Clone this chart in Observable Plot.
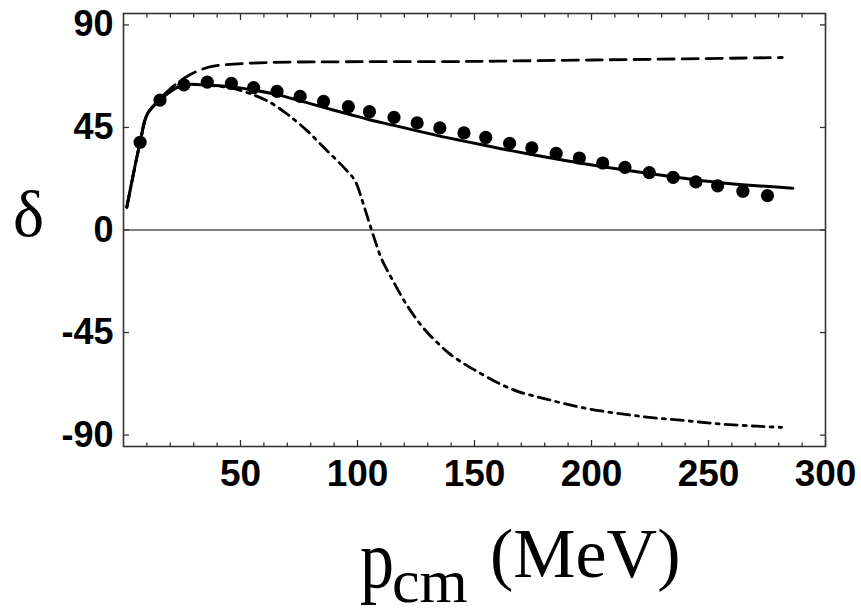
<!DOCTYPE html>
<html>
<head>
<meta charset="utf-8">
<script src="https://cdn.jsdelivr.net/npm/d3@7"></script>
<script src="https://cdn.jsdelivr.net/npm/@observablehq/plot@0.6"></script>
<style>
  body { margin: 0; background: #fff; }
  #chart { width: 861px; height: 616px; }
</style>
</head>
<body>
<div id="chart"></div>
<script>
// ---- data ----
const dotP     = [7.1, 15.6, 25.8, 35.8, 46.1, 55.6, 65.6, 75.5, 85.5, 96.1, 105.1, 115.6, 125.5, 135.2, 145.5, 154.8, 165.0, 174.5, 184.9, 194.8, 204.8, 214.3, 224.7, 234.9, 244.6, 253.9, 264.7, 275.2];
const dotDelta = [38.5, 57.0, 63.7, 64.9, 64.3, 62.5, 60.8, 58.6, 56.4, 54.1, 51.9, 49.4, 47.0, 44.8, 42.6, 40.6, 38.0, 36.0, 33.6, 31.6, 29.4, 27.5, 25.2, 23.1, 21.1, 19.4, 17.0, 15.1];

const solidP     = [1.4, 7.1, 10.2, 15.6, 21.6, 25.8, 35.8, 46.1, 55.6, 65.6, 75.5, 85.5, 96.1, 105.1, 115.6, 125.5, 135.2, 145.5, 160.8, 175, 196.2, 224.7, 253.1, 286];
const solidDelta = [10, 38.5, 50.9, 57, 61.8, 63.7, 63.6, 62.8, 61.4, 59.4, 56.7, 53.8, 50.9, 48.4, 45.9, 43.5, 41.2, 39.0, 35.8, 33.0, 29.2, 24.8, 21.0, 18.3];

const dashedP     = [1.4, 7.1, 10.2, 15.6, 20, 25.8, 30, 35.8, 41, 47.1, 61.4, 89.7, 139.5, 160.8, 200, 240, 281.5];
const dashedDelta = [10, 38.5, 50.9, 57.5, 62, 66.5, 69, 71.3, 72.3, 72.8, 73.5, 73.8, 73.9, 74.1, 74.6, 75.1, 75.7];

const dashDotP     = [1.4, 7.1, 10.2, 15.6, 21.6, 25.8, 35.8, 46.1, 51.4, 61.4, 69.9, 78.4, 87, 95.4, 99, 102, 104, 106, 108, 110, 112.5, 115, 118, 121, 124, 127.5, 131, 135, 139, 144, 150.7, 159.7, 168.7, 180.7, 195.7, 210.7, 225.7, 240.7, 255.7, 270.7, 281.2];
const dashDotDelta = [10, 38.5, 50.9, 57, 61.8, 63.7, 63.5, 62.3, 60.8, 56.7, 50.9, 43.6, 34.8, 26.1, 21.5, 13, 6.5, 0, -6.2, -12, -17.3, -22, -27.6, -32.8, -37.4, -42.2, -46.3, -50.3, -54, -57.7, -61.8, -66.9, -70.9, -74.2, -77.9, -80.4, -82.3, -83.7, -85.2, -86.1, -86.6];

const xTickLabels = [50, 100, 150, 200, 250, 300];
const xMinorTicks = [10, 20, 30, 40, 60, 70, 80, 90, 110, 120, 130, 140, 160, 170, 180, 190, 210, 220, 230, 240, 260, 270, 280, 290];
const yTickLabels = [-90, -45, 0, 45, 90];

// ---- tables built from arrays ----
const dots    = dotP.map((p, i) => ({p, d: dotDelta[i]}));
const solid   = solidP.map((p, i) => ({p, d: solidDelta[i]}));
const dashed  = dashedP.map((p, i) => ({p, d: dashedDelta[i]}));
const dashDot = dashDotP.map((p, i) => ({p, d: dashDotDelta[i]}));

const sans = "'Liberation Sans', Arial, Helvetica, sans-serif";
const serif = "'Liberation Serif', 'Times New Roman', Times, serif";
const frameColor = "#333";

const plot = Plot.plot({
  width: 861,
  height: 616,
  marginLeft: 123,
  marginRight: 36,
  marginTop: 13,
  marginBottom: 170,
  style: {fontFamily: sans, background: "white", color: "black"},
  x: {domain: [0, 300]},
  y: {domain: [-95, 95]},
  marks: [
    Plot.ruleY([0], {stroke: "black", strokeWidth: 1.2}),
    Plot.line(dashed,  {x: "p", y: "d", stroke: "black", strokeWidth: 2.8, strokeDasharray: "16,8", curve: "catmull-rom"}),
    Plot.line(dashDot, {x: "p", y: "d", stroke: "black", strokeWidth: 2.8, strokeDasharray: "12,6,3,6", curve: "catmull-rom"}),
    Plot.line(solid,   {x: "p", y: "d", stroke: "black", strokeWidth: 3, curve: "catmull-rom"}),
    Plot.dot(dots, {x: "p", y: "d", r: 6.6, fill: "black", stroke: "none"}),
    Plot.frame({stroke: frameColor, strokeWidth: 1.6}),
    // tick labels
    Plot.axisX({anchor: "bottom", ticks: xTickLabels, tickSize: 0, tickPadding: 13, fontSize: 37, fontWeight: "bold", tickFormat: d => String(d), label: null}),
    Plot.axisY({anchor: "left", ticks: yTickLabels, tickSize: 0, tickPadding: 10, fontSize: 36, fontWeight: "bold", tickFormat: d => String(d), label: null}),
    // inward ticks
    Plot.axisX({anchor: "bottom", ticks: xTickLabels, tickSize: -6, fill: "none", stroke: frameColor, strokeWidth: 1.3, label: null}),
    Plot.axisX({anchor: "bottom", ticks: xMinorTicks, tickSize: -3.5, fill: "none", stroke: frameColor, strokeWidth: 1.3, label: null}),
    Plot.axisX({anchor: "top", ticks: xTickLabels, tickSize: -6, fill: "none", stroke: frameColor, strokeWidth: 1.3, label: null}),
    Plot.axisX({anchor: "top", ticks: xMinorTicks, tickSize: -3.5, fill: "none", stroke: frameColor, strokeWidth: 1.3, label: null}),
    Plot.axisY({anchor: "left", ticks: yTickLabels, tickSize: -6, fill: "none", stroke: frameColor, strokeWidth: 1.3, label: null}),
    Plot.axisY({anchor: "right", ticks: yTickLabels, tickSize: -6, fill: "none", stroke: frameColor, strokeWidth: 1.3, label: null})
  ]
});

document.getElementById("chart").appendChild(plot);

// axis titles as real text
const s = d3.select(plot);
s.append("text")
  .attr("x", 13).attr("y", 236)
  .attr("text-anchor", "start")
  .attr("font-family", serif).attr("font-size", 66).attr("fill", "black")
  .text("δ");

const lab = s.append("g").attr("font-family", serif).attr("fill", "black").attr("text-anchor", "start");
lab.append("text").attr("transform", "translate(360,587) scale(1,1.2)").attr("font-size", 68).text("p");
lab.append("text").attr("x", 392).attr("y", 602).attr("font-size", 62).text("cm");
lab.append("text").attr("x", 490).attr("y", 577).attr("font-size", 70).text("(MeV)");
</script>
</body>
</html>
